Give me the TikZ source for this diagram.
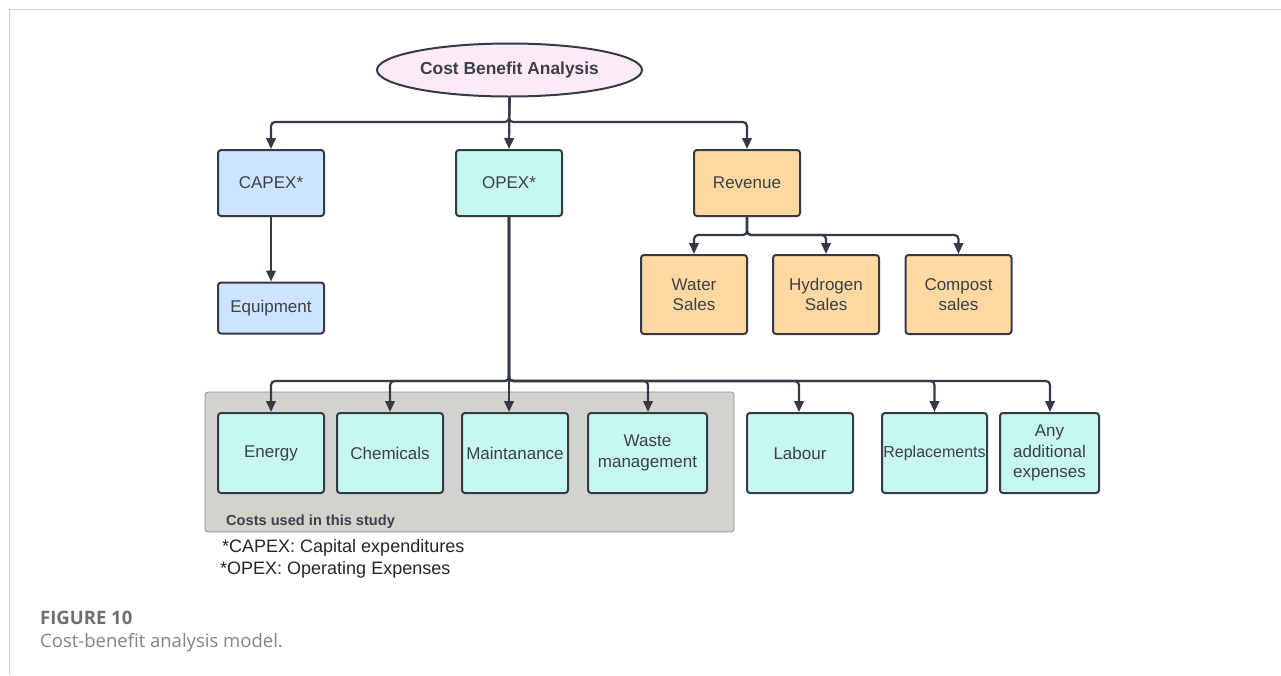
\documentclass[tikz,border=0pt]{standalone}
\usepackage{fontspec}
\setmainfont{Liberation Sans}
\newfontfamily\capfont{Open Sans}
\usetikzlibrary{shapes.geometric,arrows.meta,calc}
\definecolor{edge}{HTML}{343B46}
\definecolor{txt}{HTML}{3C4049}
\definecolor{pinkfill}{HTML}{FDEAF7}
\definecolor{bluefill}{HTML}{CCE4FF}
\definecolor{cyanfill}{HTML}{C6F7F1}
\definecolor{orangefill}{HTML}{FFD9A1}
\definecolor{grayfill}{HTML}{D4D2CC}
\definecolor{frame}{HTML}{CFCFCF}
\definecolor{capgray}{HTML}{6E6E6E}
\begin{document}
\begin{tikzpicture}[x=1pt,y=-1pt,
  box/.style={draw=edge, line width=2pt, rounded corners=3pt, align=center,
    text=txt, inner sep=0pt, font=\fontsize{17}{20.5}\selectfont},
  bluebox/.style={box, fill=bluefill, minimum width=106pt},
  cyanbox/.style={box, fill=cyanfill, minimum height=80pt},
  orangebox/.style={box, fill=orangefill, minimum width=106pt},
  conn/.style={draw=edge, line width=2.2pt, rounded corners=4pt,
    -{Triangle[length=11pt,width=9.5pt]}},
  note/.style={text=black!85, inner sep=0pt, anchor=west,
    font=\fontsize{18}{21}\selectfont}
]
\useasboundingbox (0,0) rectangle (1281,675);

% page frame
\draw[frame, line width=1.5pt] (9.5,675) -- (9.5,9.5) -- (1281,9.5);

% group of the costs taken into account
\node[draw=black!45, line width=0.8pt, fill=grayfill, rounded corners=3pt,
  minimum width=529pt, minimum height=140pt, inner sep=0pt] (group) at (469.5,462) {};
\node[anchor=west, inner sep=0pt, text=txt,
  font=\bfseries\fontsize{14.6}{17}\selectfont] (grouplabel) at (226,522) {Costs used in this study};

% root
\node[ellipse, draw=edge, line width=2pt, fill=pinkfill, minimum width=265pt,
  minimum height=53pt, text=txt, font=\bfseries\fontsize{17.4}{20}\selectfont]
  (cba) at (509.5,70) {Cost Benefit Analysis};

% first level
\node[bluebox, minimum height=66pt] (capex) at (271,183) {CAPEX*};
\node[box, fill=cyanfill, minimum width=106pt, minimum height=66pt] (opex) at (509,183) {OPEX*};
\node[orangebox, minimum height=66pt] (rev) at (747,183) {Revenue};

% capital side
\node[bluebox, minimum height=51pt] (equip) at (271,308) {Equipment};

% revenue side
\node[orangebox, minimum height=79pt] (water) at (694,294.5) {Water\\Sales};
\node[orangebox, minimum height=79pt] (hydro) at (826,294.5) {Hydrogen\\Sales};
\node[orangebox, minimum height=79pt] (compost) at (958.5,294.5) {Compost\\sales};

% operating costs
\node[cyanbox, minimum width=106pt] (energy) at (271,453) {Energy};
\node[cyanbox, minimum width=106pt] (chem) at (390,453) {Chemicals};
\node[cyanbox, minimum width=106pt] (maint) at (515,453) {Maintanance};
\node[cyanbox, minimum width=119pt] (waste) at (647.5,453) {Waste\\management};
\node[cyanbox, minimum width=106pt] (labour) at (800,453) {Labour};
\node[cyanbox, minimum width=105pt, font=\fontsize{16}{20}\selectfont] (repl) at (934.5,453) {Replacements};
\node[cyanbox, minimum width=99pt] (any) at (1049.5,453) {Any\\additional\\expenses};

% bus lines
\coordinate (topbus) at (509,122);
\coordinate (revbus) at (747,235);
\coordinate (opbus) at (509,381);

% root to first level
\draw[conn] (cba.south) -- (topbus) -| (capex.north);
\draw[conn] (cba.south) -- (opex.north);
\draw[conn] (cba.south) -- (topbus) -| (rev.north);

% capex to equipment
\draw[conn] (capex.south) -- (equip.north);

% revenue to sales
\draw[conn] (rev.south) -- (revbus) -| (water.north);
\draw[conn] (rev.south) -- (revbus) -| (hydro.north);
\draw[conn] (rev.south) -- (revbus) -| (compost.north);

% opex to cost items
\draw[conn] (opex.south) -- (opbus) -| (energy.north);
\draw[conn] (opex.south) -- (opbus) -| (chem.north);
\draw[conn] (opex.south) -- (opex.south |- maint.north);
\draw[conn] (opex.south) -- (opbus) -| ($(waste.north)+(0.5,0)$);
\draw[conn] (opex.south) -- (opbus) -| ($(labour.north)+(-1,0)$);
\draw[conn] (opex.south) -- (opbus) -| (repl.north);
\draw[conn] (opex.south) -- (opbus) -| ($(any.north)+(0.5,0)$);

% abbreviations
\node[note] (n1) at (222,548) {*CAPEX: Capital expenditures};
\node[note] (n2) at (220,570) {*OPEX: Operating Expenses};

% caption
\node[anchor=west, inner sep=0pt, text=capgray, font=\capfont\bfseries\fontsize{18.5}{22}\selectfont]
  (fig) at (40,618) {FIGURE 10};
\node[anchor=west, inner sep=0pt, text=capgray!85, font=\capfont\fontsize{18.5}{22}\selectfont]
  (figtxt) at (40,643) {Cost-benefit analysis model.};
\end{tikzpicture}
\end{document}
